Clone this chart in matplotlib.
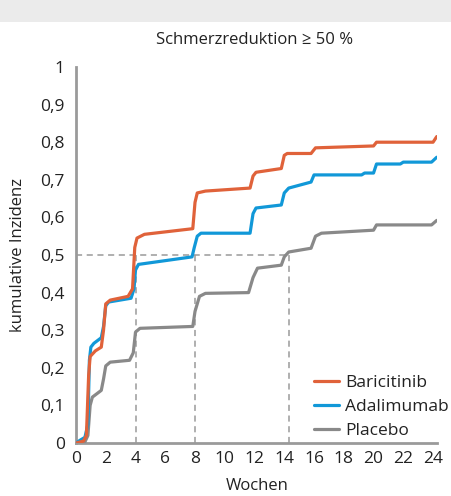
import matplotlib
matplotlib.use("Agg")
import matplotlib.pyplot as plt
from matplotlib.patches import Rectangle

plt.rcParams['font.family'] = ['Open Sans', 'DejaVu Sans']

title = "Schmerzreduktion ≥ 50 %"
series_names = ["Baricitinib", "Adalimumab", "Placebo"]
colors = ["#E0623A", "#1198D8", "#898989"]

bari_x = [0, 0.5, 0.7, 0.85, 0.95, 1.3, 1.7, 1.85, 2.0, 2.3, 3.5, 3.8, 3.95, 4.1, 4.6, 7.85, 8.0, 8.15, 8.7, 11.7, 11.9, 12.1, 13.8, 14.0, 14.2, 15.8, 16.1, 20.0, 20.2, 24.0, 24.25]
bari_y = [0, 0.005, 0.02, 0.18, 0.23, 0.245, 0.255, 0.3, 0.37, 0.38, 0.39, 0.41, 0.52, 0.545, 0.555, 0.57, 0.64, 0.665, 0.67, 0.678, 0.71, 0.72, 0.73, 0.765, 0.77, 0.77, 0.785, 0.79, 0.80, 0.80, 0.815]

ada_x = [0, 0.3, 0.6, 0.8, 0.9, 1.0, 1.2, 1.7, 1.85, 2.0, 2.2, 3.7, 3.9, 4.0, 4.2, 7.8, 7.95, 8.15, 8.4, 11.7, 11.9, 12.1, 13.8, 14.0, 14.3, 15.8, 16.0, 19.2, 19.4, 20.0, 20.2, 21.8, 22.0, 23.9, 24.25]
ada_y = [0, 0.008, 0.015, 0.05, 0.22, 0.255, 0.265, 0.28, 0.31, 0.365, 0.375, 0.385, 0.41, 0.46, 0.475, 0.495, 0.52, 0.55, 0.558, 0.558, 0.61, 0.625, 0.633, 0.665, 0.678, 0.694, 0.713, 0.713, 0.718, 0.718, 0.742, 0.742, 0.747, 0.747, 0.76]

pla_x = [0, 0.6, 0.8, 0.95, 1.1, 1.7, 1.85, 2.0, 2.3, 3.6, 3.85, 4.0, 4.3, 7.85, 8.0, 8.3, 8.7, 11.6, 11.9, 12.2, 13.8, 14.0, 14.3, 15.8, 16.1, 16.5, 20.0, 20.2, 23.9, 24.25]
pla_y = [0, 0.003, 0.02, 0.10, 0.122, 0.14, 0.17, 0.205, 0.215, 0.22, 0.24, 0.295, 0.305, 0.31, 0.35, 0.39, 0.398, 0.40, 0.44, 0.465, 0.473, 0.495, 0.508, 0.518, 0.55, 0.558, 0.566, 0.58, 0.58, 0.592]

x_ticks = list(range(0, 25, 2))
y_ticks = [0, 0.1, 0.2, 0.3, 0.4, 0.5, 0.6, 0.7, 0.8, 0.9, 1.0]
y_tick_labels = ["0", "0,1", "0,2", "0,3", "0,4", "0,5", "0,6", "0,7", "0,8", "0,9", "1"]
ref_level = 0.5
ref_weeks = [4, 8, 14.3]

fig = plt.figure(figsize=(4.51, 4.96), dpi=100)
fig.patches.append(Rectangle((0, 1 - 22 / 496), 1, 22 / 496, transform=fig.transFigure,
                             facecolor="#EBEBEB", edgecolor="none", zorder=0))
ax = fig.add_axes([76 / 451, 1 - 443 / 496, (437.5 - 76) / 451, (443 - 67) / 496])

spine_c = "#9A9A9A"
# reference dashed lines
ax.plot([0, max(ref_weeks)], [ref_level, ref_level], color=spine_c, lw=1.1, ls=(0, (4, 3)), zorder=1)
for w in ref_weeks:
    ax.plot([w, w], [0, ref_level], color=spine_c, lw=1.1, ls=(0, (4, 3)), zorder=1)

for xs, ys, c, n in [(pla_x, pla_y, colors[2], series_names[2]),
                     (ada_x, ada_y, colors[1], series_names[1]),
                     (bari_x, bari_y, colors[0], series_names[0])]:
    ax.plot(xs, ys, color=c, lw=2.3, label=n, solid_capstyle="round", solid_joinstyle="round", zorder=3)

ax.set_xlim(0, 24.3)
ax.set_ylim(0, 1)
ax.set_xticks(x_ticks)
ax.set_yticks(y_ticks)
ax.set_yticklabels(y_tick_labels)
ax.tick_params(length=0, labelsize=12.5, labelcolor="#222222")
ax.tick_params(axis="y", pad=8)
ax.tick_params(axis="x", pad=6)
for s in ["top", "right"]:
    ax.spines[s].set_visible(False)
for s in ["left", "bottom"]:
    ax.spines[s].set_color(spine_c)
    ax.spines[s].set_linewidth(2)

ax.set_xlabel("Wochen", fontsize=12, color="#222222", labelpad=8)
ax.set_ylabel("kumulative Inzidenz", fontsize=12, color="#222222", labelpad=10)
fig.text(255 / 451, 1 - 40 / 496, title, ha="center", va="center", fontsize=12, color="#222222")

handles, labels = ax.get_legend_handles_labels()
order = [2, 1, 0]
leg = ax.legend([handles[i] for i in order], [labels[i] for i in order],
                loc="lower left", bbox_to_anchor=(314 / 451, 1 - 443 / 496 + 4 / 496),
                bbox_transform=fig.transFigure, frameon=False, fontsize=12.5,
                handlelength=1.45, handletextpad=0.35, labelspacing=0.45, borderaxespad=0,
                borderpad=0)
for t in leg.get_texts():
    t.set_color("#222222")

fig.savefig("out.png", dpi=100)
